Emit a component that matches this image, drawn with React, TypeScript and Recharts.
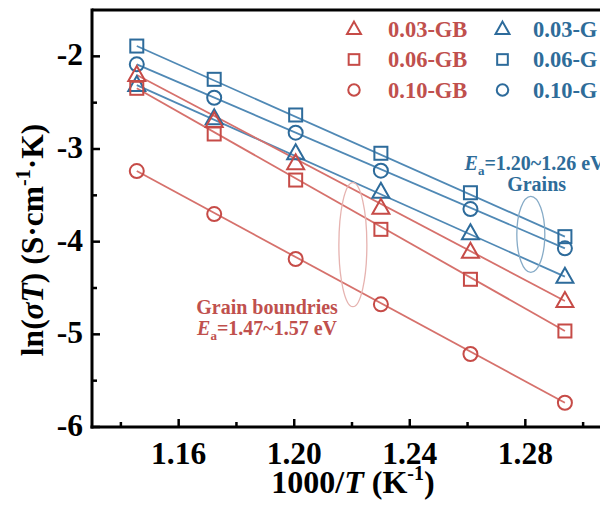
import React from 'react';
import {
  ComposedChart,
  Line,
  Scatter,
  XAxis,
  YAxis,
  ReferenceLine,
  ReferenceDot,
  Legend,
} from 'recharts';

// 1000/T (K^-1) for 873, 853, 833, 813, 793 and 773 K
const inverseT = [1.1455, 1.1723, 1.2005, 1.23, 1.261, 1.2937];

// ln(sigma*T) — grain-boundary contributions
const gb003 = [-2.202, -2.698, -3.154, -3.634, -4.108, -4.64];
const gb006 = [-2.345, -2.838, -3.335, -3.867, -4.406, -4.964];
const gb010 = [-3.238, -3.702, -4.187, -4.676, -5.212, -5.738];

// ln(sigma*T) — grain (bulk) contributions
const g003 = [-2.31, -2.669, -3.047, -3.461, -3.91, -4.378];
const g006 = [-1.889, -2.248, -2.633, -3.046, -3.472, -3.946];
const g010 = [-2.086, -2.447, -2.824, -3.234, -3.648, -4.072];

const seriesNames = ['0.03-GB', '0.06-GB', '0.10-GB', '0.03-G', '0.06-G', '0.10-G'];

const xTicks = [1.14, 1.16, 1.18, 1.2, 1.22, 1.24, 1.26, 1.28, 1.3];
const xTickLabels = ['', '1.16', '', '1.20', '', '1.24', '', '1.28', ''];
const yTicks = [-6, -5.5, -5, -4.5, -4, -3.5, -3, -2.5, -2];
const yTickLabels = ['-6', '', '-5', '', '-4', '', '-3', '', '-2'];

const X_DOMAIN: [number, number] = [1.13, 1.31];
const Y_DOMAIN: [number, number] = [-6, -1.5];

const FONT = '"Liberation Serif", "Times New Roman", serif';

const RED = '#c64b47';
const RED_LINE = '#d6716c';
const RED_TEXT = '#c0504d';
const BLUE = '#2d6b9b';
const BLUE_LINE = '#5089b5';
const BLUE_TEXT = '#2e6c99';

type MarkerKind = 'triangle' | 'square' | 'circle';

const toPoints = (values: number[]) => inverseT.map((x, i) => ({ x, y: values[i] }));
const fitPoints = (values: number[]) => [
  { x: inverseT[0], y: values[0] },
  { x: inverseT[inverseT.length - 1], y: values[values.length - 1] },
];

const series = [
  { name: seriesNames[3], values: g003, color: BLUE, line: BLUE_LINE, marker: 'triangle' as MarkerKind },
  { name: seriesNames[4], values: g006, color: BLUE, line: BLUE_LINE, marker: 'square' as MarkerKind },
  { name: seriesNames[5], values: g010, color: BLUE, line: BLUE_LINE, marker: 'circle' as MarkerKind },
  { name: seriesNames[0], values: gb003, color: RED, line: RED_LINE, marker: 'triangle' as MarkerKind },
  { name: seriesNames[1], values: gb006, color: RED, line: RED_LINE, marker: 'square' as MarkerKind },
  { name: seriesNames[2], values: gb010, color: RED, line: RED_LINE, marker: 'circle' as MarkerKind },
];

const Marker = ({ kind, cx, cy, color, scale = 1 }: { kind: MarkerKind; cx: number; cy: number; color: string; scale?: number }) => {
  const sw = 2;
  if (kind === 'triangle') {
    const hw = 8.5 * scale;
    const top = 9 * scale;
    const bot = 6 * scale;
    return (
      <polygon
        points={`${cx},${cy - top} ${cx + hw},${cy + bot} ${cx - hw},${cy + bot}`}
        fill="none"
        stroke={color}
        strokeWidth={sw}
        strokeLinejoin="miter"
      />
    );
  }
  if (kind === 'square') {
    const h = 6.5 * scale;
    return <rect x={cx - h} y={cy - h} width={2 * h} height={2 * h} fill="none" stroke={color} strokeWidth={sw} />;
  }
  return <circle cx={cx} cy={cy} r={7 * scale} fill="none" stroke={color} strokeWidth={sw} />;
};

const findLabel = (value: number, ticks: number[], labels: string[]) => {
  const i = ticks.findIndex((t) => Math.abs(t - value) < 1e-6);
  return i >= 0 ? labels[i] : '';
};

const XTick = (props: any) => {
  const { x, y, payload } = props;
  const label = findLabel(payload.value, xTicks, xTickLabels);
  const major = label !== '';
  return (
    <g>
      <line x1={x} x2={x} y1={y} y2={y - (major ? 8 : 5)} stroke="#000" strokeWidth={2.5} />
      {major && (
        <text x={x} y={y + 37} textAnchor="middle" fontFamily={FONT} fontWeight="bold" fontSize={31.5} fill="#000">
          {label}
        </text>
      )}
    </g>
  );
};

const YTick = (props: any) => {
  const { x, y, payload } = props;
  const label = findLabel(payload.value, yTicks, yTickLabels);
  const major = label !== '';
  return (
    <g>
      <line x1={x} x2={x + (major ? 8 : 5)} y1={y} y2={y} stroke="#000" strokeWidth={2.5} />
      {major && (
        <text x={x - 9} y={y + 9} textAnchor="end" fontFamily={FONT} fontWeight="bold" fontSize={31.5} fill="#000">
          {label}
        </text>
      )}
    </g>
  );
};

const XTitle = () => (
  <text x={345} y={485} textAnchor="middle" fontFamily={FONT} fontWeight="bold" fontSize={32} fill="#000">
    <tspan>1000/</tspan>
    <tspan fontStyle="italic">T</tspan>
    <tspan> (K</tspan>
    <tspan fontSize={20} dy={-13}>-1</tspan>
    <tspan dy={13}>)</tspan>
  </text>
);

const YTitle = () => (
  <text
    x={0}
    y={0}
    transform="translate(35 232) rotate(-90)"
    textAnchor="middle"
    fontFamily={FONT}
    fontWeight="bold"
    fontSize={31.5}
    fill="#000"
  >
    <tspan>ln(</tspan>
    <tspan fontStyle="italic">σT</tspan>
    <tspan>) (S·cm</tspan>
    <tspan fontSize={20} dy={-13}>-1</tspan>
    <tspan dy={13}>·K)</tspan>
  </text>
);

const legendRows: { kind: MarkerKind; gb: string; g: string }[] = [
  { kind: 'triangle', gb: seriesNames[0], g: seriesNames[3] },
  { kind: 'square', gb: seriesNames[1], g: seriesNames[4] },
  { kind: 'circle', gb: seriesNames[2], g: seriesNames[5] },
];

const LegendBox = () => (
  <svg width={270} height={100} style={{ display: 'block' }}>
    {legendRows.map((row, i) => {
      const cy = 15 + i * 30.5;
      return (
        <g key={row.gb}>
          <Marker kind={row.kind} cx={16} cy={cy} color={RED} scale={0.82} />
          <text x={50} y={cy + 7.5} fontFamily={FONT} fontWeight="bold" fontSize={22.5} fill={RED_TEXT}>
            {row.gb}
          </text>
          <Marker kind={row.kind} cx={164.5} cy={cy} color={BLUE} scale={0.82} />
          <text x={195} y={cy + 7.5} fontFamily={FONT} fontWeight="bold" fontSize={22.5} fill={BLUE_TEXT}>
            {row.g}
          </text>
        </g>
      );
    })}
  </svg>
);

const ellipseShape = (rx: number, ry: number, color: string) => (p: any) => (
  <ellipse cx={p.cx} cy={p.cy} rx={rx} ry={ry} fill="none" stroke={color} strokeWidth={1.3} />
);

const ActivationLabel = ({ cx, cy, color, value }: { cx: number; cy: number; color: string; value: string }) => (
  <text x={cx} y={cy + 7} textAnchor="middle" fontFamily={FONT} fontWeight="bold" fontSize={20} fill={color}>
    <tspan fontStyle="italic">E</tspan>
    <tspan fontSize={13} dy={5}>a</tspan>
    <tspan dy={-5}>{value}</tspan>
  </text>
);

const PlainLabel = ({ cx, cy, color, text }: { cx: number; cy: number; color: string; text: string }) => (
  <text x={cx} y={cy + 7} textAnchor="middle" fontFamily={FONT} fontWeight="bold" fontSize={20} fill={color}>
    {text}
  </text>
);

export default function App() {
  return (
    <div style={{ width: 600, height: 506, overflow: 'hidden', position: 'relative' }}>
      <ComposedChart width={604} height={506} margin={{ top: 2, right: 0, bottom: 0, left: 0 }}>
        <XAxis
          type="number"
          dataKey="x"
          domain={X_DOMAIN}
          ticks={xTicks}
          interval={0}
          allowDataOverflow
          height={87}
          tickSize={0}
          tickMargin={0}
          tick={<XTick />}
          axisLine={{ stroke: '#000', strokeWidth: 3, strokeLinecap: 'square' }}
        />
        <YAxis
          type="number"
          dataKey="y"
          domain={Y_DOMAIN}
          ticks={yTicks}
          interval={0}
          allowDataOverflow
          width={84}
          tickSize={0}
          tickMargin={0}
          tick={<YTick />}
          axisLine={{ stroke: '#000', strokeWidth: 3, strokeLinecap: 'square' }}
        />
        <ReferenceLine y={Y_DOMAIN[1]} stroke="#000" strokeWidth={3} ifOverflow="visible" />

        {series.map((s) => (
          <Line
            key={`fit-${s.name}`}
            data={fitPoints(s.values)}
            dataKey="y"
            type="linear"
            stroke={s.line}
            strokeWidth={1.8}
            dot={false}
            activeDot={false}
            legendType="none"
            isAnimationActive={false}
          />
        ))}
        {series.map((s) => (
          <Scatter
            key={`pts-${s.name}`}
            name={s.name}
            data={toPoints(s.values)}
            dataKey="y"
            isAnimationActive={false}
            shape={(p: any) => <Marker kind={s.marker} cx={p.cx} cy={p.cy} color={s.color} />}
          />
        ))}

        <ReferenceDot x={1.2819} y={-3.921} ifOverflow="visible" shape={ellipseShape(14, 38, '#86abc7')} />
        <ReferenceDot x={1.2203} y={-4.033} ifOverflow="visible" shape={ellipseShape(14, 62, '#e6b3b0')} />
        <ReferenceDot
          x={1.2832}
          y={-3.148}
          ifOverflow="visible"
          shape={(p: any) => <ActivationLabel cx={p.cx} cy={p.cy} color={BLUE_TEXT} value="=1.20~1.26 eV" />}
        />
        <ReferenceDot
          x={1.2839}
          y={-3.378}
          ifOverflow="visible"
          shape={(p: any) => <PlainLabel cx={p.cx} cy={p.cy} color={BLUE_TEXT} text="Grains" />}
        />
        <ReferenceDot
          x={1.1906}
          y={-4.702}
          ifOverflow="visible"
          shape={(p: any) => <PlainLabel cx={p.cx} cy={p.cy} color={RED_TEXT} text="Grain boundries" />}
        />
        <ReferenceDot
          x={1.1906}
          y={-4.932}
          ifOverflow="visible"
          shape={(p: any) => <ActivationLabel cx={p.cx} cy={p.cy} color={RED_TEXT} value="=1.47~1.57 eV" />}
        />

        <Legend
          layout="vertical"
          align="center"
          verticalAlign="middle"
          content={() => <LegendBox />}
          wrapperStyle={{ left: 330, top: 6, width: 270, height: 100 }}
        />
      </ComposedChart>
      <svg width={600} height={506} style={{ position: 'absolute', left: 0, top: 0, pointerEvents: 'none' }}>
        <XTitle />
        <YTitle />
      </svg>
    </div>
  );
}
